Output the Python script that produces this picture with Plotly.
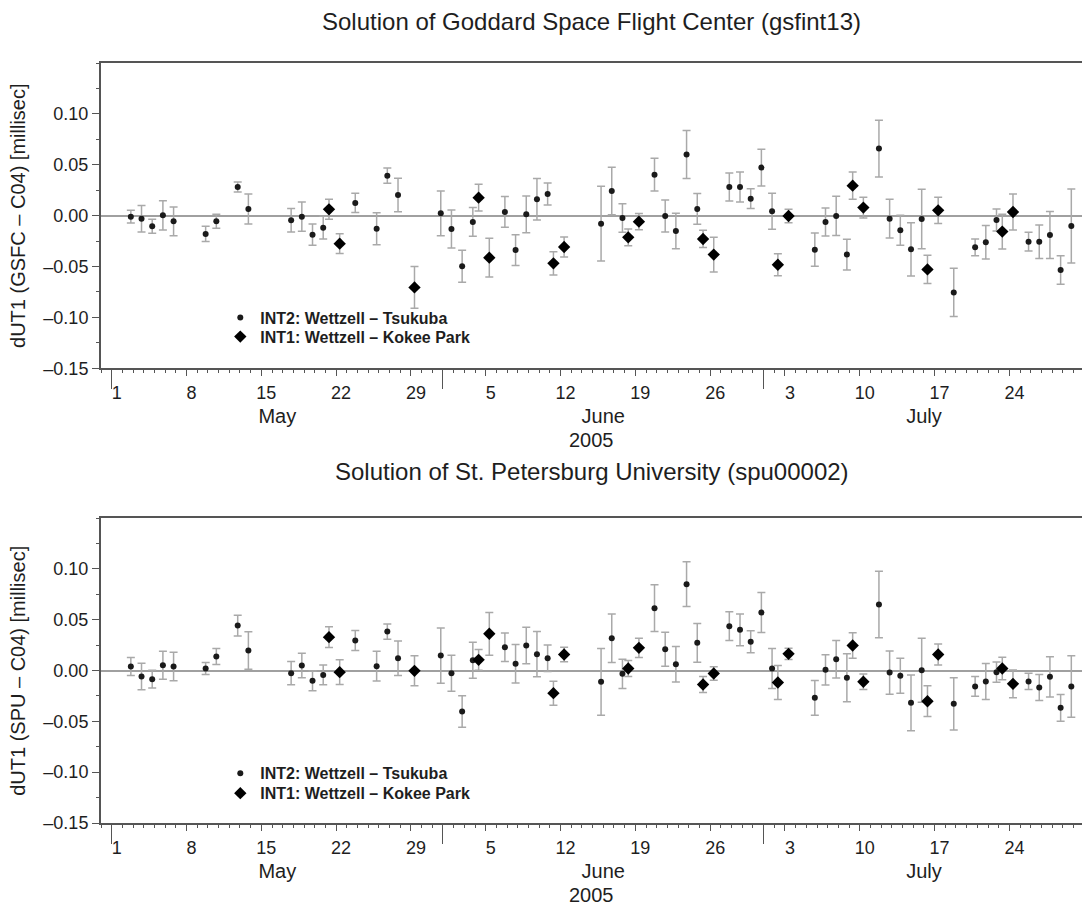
import pandas as pd
import plotly.graph_objects as go

FONT = "Liberation Sans"

# Session days (2005) for the two baselines
INT2_DAYS = ["05-02", "05-03", "05-04", "05-05", "05-06", "05-09", "05-10", "05-12", "05-13",
             "05-17", "05-18", "05-19", "05-20", "05-23", "05-25", "05-26", "05-27", "05-31",
             "06-01", "06-02", "06-03", "06-06", "06-07", "06-08", "06-09", "06-10", "06-15",
             "06-16", "06-17", "06-20", "06-21", "06-22", "06-23", "06-24", "06-27", "06-28",
             "06-29", "06-30",
             "07-01", "07-05", "07-06", "07-07", "07-08", "07-11", "07-12", "07-13", "07-14",
             "07-15", "07-18", "07-20", "07-21", "07-22", "07-25", "07-26", "07-27", "07-28",
             "07-29"]
INT1_DAYS = ["05-21", "05-22", "05-29", "06-04", "06-05", "06-11", "06-12", "06-18", "06-19",
             "06-25", "06-26", "07-02", "07-03", "07-09", "07-10", "07-16", "07-17", "07-23",
             "07-24"]
INT2_TIME = "19:00"
INT1_TIME = "08:00"

# GSFC solution (gsfint13) minus C04, milliseconds
GSFC_INT2 = [-0.0010, -0.0030, -0.0105, 0.0003, -0.0056, -0.0180, -0.0056, 0.0282, 0.0066,
             -0.0046, -0.0010, -0.0187, -0.0118, 0.0125, -0.0128, 0.0393, 0.0203, 0.0023,
             -0.0131, -0.0498, -0.0062, 0.0036, -0.0338, 0.0013, 0.0161, 0.0213, -0.0079,
             0.0243, -0.0023, 0.0403, -0.0003, -0.0151, 0.0600, 0.0066, 0.0282, 0.0282,
             0.0167, 0.0472,
             0.0043, -0.0334, -0.0062, -0.0003, -0.0383, 0.0659, -0.0030, -0.0144, -0.0331,
             -0.0033, -0.0754, -0.0311, -0.0262, -0.0043, -0.0256, -0.0256, -0.0190, -0.0534,
             -0.0102]
GSFC_INT2_ERR = [0.0062, 0.0130, 0.0069, 0.0144, 0.0141, 0.0075, 0.0069, 0.0049, 0.0147,
                 0.0115, 0.0144, 0.0105, 0.0111, 0.0095, 0.0157, 0.0075, 0.0164, 0.0220,
                 0.0187, 0.0157, 0.0141, 0.0151, 0.0151, 0.0180, 0.0203, 0.0108, 0.0367,
                 0.0233, 0.0141, 0.0160, 0.0157, 0.0174, 0.0236, 0.0151, 0.0138, 0.0147,
                 0.0098, 0.0180,
                 0.0177, 0.0164, 0.0138, 0.0193, 0.0151, 0.0279, 0.0190, 0.0147, 0.0262,
                 0.0292, 0.0236, 0.0082, 0.0164, 0.0108, 0.0092, 0.0164, 0.0230, 0.0141,
                 0.0364]
GSFC_INT1 = [0.0062, -0.0275, -0.0705, 0.0177, -0.0413, -0.0469, -0.0308, -0.0213, -0.0059,
             -0.0229, -0.0383, -0.0482, -0.0003, 0.0295, 0.0079, -0.0528, 0.0052, -0.0157,
             0.0036]
GSFC_INT1_ERR = [0.0098, 0.0098, 0.0206, 0.0131, 0.0190, 0.0115, 0.0098, 0.0082, 0.0079,
                 0.0085, 0.0170, 0.0108, 0.0066, 0.0134, 0.0102, 0.0138, 0.0128, 0.0170,
                 0.0177]

# St. Petersburg University solution (spu00002) minus C04, milliseconds
SPU_INT2 = [0.0039, -0.0059, -0.0085, 0.0052, 0.0039, 0.0020, 0.0138, 0.0442, 0.0197,
            -0.0026, 0.0049, -0.0102, -0.0043, 0.0295, 0.0043, 0.0383, 0.0121, 0.0147,
            -0.0026, -0.0403, 0.0102, 0.0229, 0.0066, 0.0246, 0.0161, 0.0121, -0.0111,
            0.0318, -0.0033, 0.0613, 0.0210, 0.0062, 0.0849, 0.0272, 0.0436, 0.0400,
            0.0282, 0.0570,
            0.0020, -0.0269, 0.0007, 0.0111, -0.0072, 0.0649, -0.0020, -0.0052, -0.0318,
            0.0003, -0.0328, -0.0157, -0.0108, -0.0016, -0.0108, -0.0167, -0.0062, -0.0367,
            -0.0157]
SPU_INT2_ERR = [0.0089, 0.0131, 0.0088, 0.0138, 0.0141, 0.0059, 0.0079, 0.0102, 0.0184,
                0.0115, 0.0121, 0.0098, 0.0098, 0.0098, 0.0147, 0.0075, 0.0170, 0.0272,
                0.0177, 0.0154, 0.0177, 0.0141, 0.0190, 0.0180, 0.0223, 0.0131, 0.0328,
                0.0239, 0.0144, 0.0230, 0.0167, 0.0174, 0.0220, 0.0190, 0.0141, 0.0157,
                0.0108, 0.0197,
                0.0197, 0.0170, 0.0149, 0.0185, 0.0236, 0.0328, 0.0213, 0.0172, 0.0274,
                0.0315, 0.0257, 0.0097, 0.0177, 0.0100, 0.0080, 0.0128, 0.0198, 0.0131,
                0.0303]
SPU_INT1 = [0.0328, -0.0016, -0.0003, 0.0105, 0.0361, -0.0223, 0.0157, 0.0020, 0.0223,
            -0.0138, -0.0030, -0.0118, 0.0164, 0.0246, -0.0111, -0.0302, 0.0157, 0.0020,
            -0.0131]
SPU_INT1_ERR = [0.0102, 0.0121, 0.0147, 0.0102, 0.0210, 0.0118, 0.0072, 0.0079, 0.0095,
                0.0079, 0.0066, 0.0167, 0.0056, 0.0125, 0.0077, 0.0151, 0.0103, 0.0110,
                0.0136]

# Axis annotations
X_RANGE = ["2005-04-30 00:00", "2005-07-30 19:00"]
DAY_TICKS = ["2005-05-01", "2005-05-08", "2005-05-15", "2005-05-22", "2005-05-29",
             "2005-06-05", "2005-06-12", "2005-06-19", "2005-06-26",
             "2005-07-03", "2005-07-10", "2005-07-17", "2005-07-24"]
DAY_LABELS = ["1", "8", "15", "22", "29", "5", "12", "19", "26", "3", "10", "17", "24"]
Y_TICKS = [-0.15, -0.10, -0.05, 0.0, 0.05, 0.10]
Y_LABELS = ["\u20130.15", "\u20130.10", "\u20130.05", "0.00", "0.05", "0.10"]
YEAR = "2005"

INT2_NAME = "INT2: Wettzell \u2013 Tsukuba"
INT1_NAME = "INT1: Wettzell \u2013 Kokee Park"

int2_dates = pd.to_datetime(["2005-" + d + " " + INT2_TIME for d in INT2_DAYS])
int1_dates = pd.to_datetime(["2005-" + d + " " + INT1_TIME for d in INT1_DAYS])

AX_COL = "#555555"
TXT_COL = "#1e1e1e"
ERR_COL = "#a9a9a9"

panels = [
    dict(title="Solution of Goddard Space Flight Center (gsfint13)",
         ylabel="dUT1 (GSFC \u2013 C04) [millisec]",
         int2=GSFC_INT2, int2_err=GSFC_INT2_ERR, int1=GSFC_INT1, int1_err=GSFC_INT1_ERR,
         domain=[0.5983, 1.0], legends=("legend", "legend2"), leg_y=(0.6649, 0.6399),
         title_shift=42),
    dict(title="Solution of St. Petersburg University (spu00002)",
         ylabel="dUT1 (SPU \u2013 C04) [millisec]",
         int2=SPU_INT2, int2_err=SPU_INT2_ERR, int1=SPU_INT1, int1_err=SPU_INT1_ERR,
         domain=[0.0, 0.4013], legends=("legend3", "legend4"), leg_y=(0.0654, 0.0391),
         title_shift=47),
]

fig = go.Figure()
layout = dict(
    width=1082, height=911,
    margin=dict(l=101, r=0, t=63, b=88),
    paper_bgcolor="white", plot_bgcolor="white",
    font=dict(family=FONT, color=TXT_COL, size=15),
    annotations=[],
    showlegend=True,
)

leg_common = dict(x=0.1216, xanchor="left", yanchor="middle", bgcolor="rgba(0,0,0,0)",
                  borderwidth=0, itemwidth=30,
                  font=dict(family=FONT, size=16, color=TXT_COL, weight="bold"))

for i, p in enumerate(panels):
    n = i + 1
    xa = "x" if n == 1 else f"x{n}"
    ya = "y" if n == 1 else f"y{n}"
    month_ax = f"x{n + 2}"

    fig.add_trace(go.Scatter(
        x=int2_dates, y=p["int2"], mode="markers", name=INT2_NAME,
        xaxis=xa, yaxis=ya, legend=p["legends"][0],
        marker=dict(symbol="circle", size=6, color="#1a1a1a"),
        error_y=dict(type="data", array=p["int2_err"], color=ERR_COL, thickness=1.5, width=4),
    ))
    fig.add_trace(go.Scatter(
        x=int1_dates, y=p["int1"], mode="markers", name=INT1_NAME,
        xaxis=xa, yaxis=ya, legend=p["legends"][1],
        marker=dict(symbol="diamond", size=9.5, color="#000000"),
        error_y=dict(type="data", array=p["int1_err"], color=ERR_COL, thickness=1.5, width=4),
    ))
    # empty series that ties the month axis to this panel
    fig.add_trace(go.Scatter(
        x=X_RANGE, y=[None, None], mode="markers", xaxis=month_ax, yaxis=ya,
        showlegend=False, hoverinfo="skip",
    ))

    xkey = "xaxis" if n == 1 else f"xaxis{n}"
    ykey = "yaxis" if n == 1 else f"yaxis{n}"
    layout[xkey] = dict(
        type="date", range=X_RANGE, anchor=ya, domain=[0, 1],
        showline=True, linecolor=AX_COL, linewidth=2, mirror=True,
        showgrid=False, zeroline=False,
        tickmode="array", tickvals=DAY_TICKS, ticktext=DAY_LABELS,
        ticks="outside", ticklen=6, tickwidth=1, tickcolor=AX_COL,
        ticklabelshift=5, ticklabelstandoff=1,
        tickfont=dict(family=FONT, size=18, color=TXT_COL),
        minor=dict(tickmode="linear", tick0="2005-05-01", dtick=86400000,
                   ticks="outside", ticklen=3, tickwidth=1, tickcolor=AX_COL, showgrid=False),
    )
    # month boundaries, with month names centred in each month
    layout[f"xaxis{n + 2}"] = dict(
        type="date", range=X_RANGE, overlaying=xa, anchor=ya, side="bottom",
        showline=False, showgrid=False, zeroline=False,
        tickmode="linear", tick0="2005-05-01", dtick="M1",
        ticklabelmode="period", tickformat="%B",
        ticks="outside", ticklen=20, tickwidth=1, tickcolor=AX_COL,
        ticklabelstandoff=10,
        tickfont=dict(family=FONT, size=20, color=TXT_COL),
    )
    layout[ykey] = dict(
        range=[-0.15, 0.15], domain=p["domain"], anchor=xa,
        showline=True, linecolor=AX_COL, linewidth=2, mirror=False,
        showgrid=False,
        zeroline=True, zerolinecolor="#a0a0a0", zerolinewidth=2,
        tickmode="array", tickvals=Y_TICKS, ticktext=Y_LABELS,
        ticks="outside", ticklen=7, tickwidth=1, tickcolor=AX_COL,
        tickfont=dict(family=FONT, size=18, color=TXT_COL),
        minor=dict(tickmode="linear", tick0=0, dtick=0.025,
                   ticks="outside", ticklen=3, tickwidth=1, tickcolor=AX_COL, showgrid=False),
    )

    xdom = f"{xa} domain"
    ydom = f"{ya} domain"
    layout["annotations"] += [
        dict(text=p["title"], xref=xdom, yref=ydom, x=0.5, y=1, yshift=p["title_shift"],
             xanchor="center", yanchor="middle", showarrow=False,
             font=dict(family=FONT, size=24, color=TXT_COL)),
        dict(text=p["ylabel"], xref="paper", yref=ydom, x=-0.0853, y=0.5, textangle=-90,
             xanchor="center", yanchor="middle", showarrow=False,
             font=dict(family=FONT, size=20, color=TXT_COL)),
        dict(text=YEAR, xref=xdom, yref=ydom, x=0.5, y=0, yshift=-72,
             xanchor="center", yanchor="middle", showarrow=False,
             font=dict(family=FONT, size=20, color=TXT_COL)),
    ]
    layout[p["legends"][0]] = dict(leg_common, y=p["leg_y"][0])
    layout[p["legends"][1]] = dict(leg_common, y=p["leg_y"][1])

fig.update_layout(**layout)
fig.write_html("out.html")
